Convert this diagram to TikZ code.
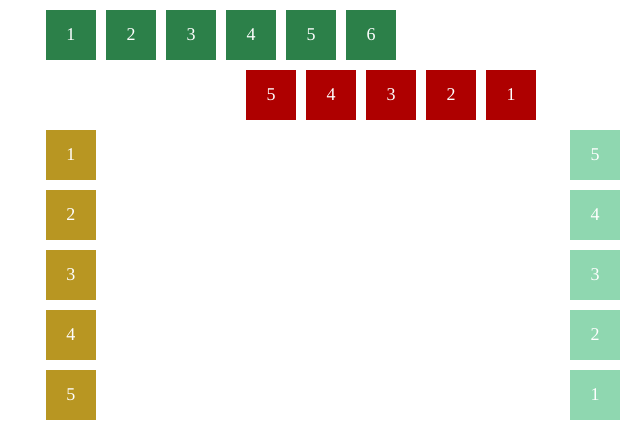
\documentclass[tikz,border=0pt]{standalone}
\usepackage{fontspec}
\setmainfont{Liberation Serif}
\definecolor{topgreen}{HTML}{2C8049}
\definecolor{darkred}{HTML}{AE0000}
\definecolor{gold}{HTML}{B89622}
\definecolor{mint}{HTML}{8FD7B0}
\tikzset{
  cell/.style={minimum size=37.5pt, inner sep=0pt, text=white, font=\fontsize{13.5}{16}\selectfont}
}

\begin{document}
\begin{tikzpicture}[x=0.75pt, y=-0.75pt]
            \useasboundingbox (0,0) rectangle (633,440);

            \node[cell, fill=topgreen] (G1) at (71,35) {1};
            \node[cell, fill=topgreen] (G2) at (131,35) {2};
            \node[cell, fill=topgreen] (G3) at (191,35) {3};
            \node[cell, fill=topgreen] (G4) at (251,35) {4};
            \node[cell, fill=topgreen] (G5) at (311,35) {5};
            \node[cell, fill=topgreen] (G6) at (371,35) {6};

            \node[cell, fill=darkred] (R5) at (271,95) {5};
            \node[cell, fill=darkred] (R4) at (331,95) {4};
            \node[cell, fill=darkred] (R3) at (391,95) {3};
            \node[cell, fill=darkred] (R2) at (451,95) {2};
            \node[cell, fill=darkred] (R1) at (511,95) {1};

            \node[cell, fill=gold] (Y1) at (71,155) {1};
            \node[cell, fill=gold] (Y2) at (71,215) {2};
            \node[cell, fill=gold] (Y3) at (71,275) {3};
            \node[cell, fill=gold] (Y4) at (71,335) {4};
            \node[cell, fill=gold] (Y5) at (71,395) {5};

            \node[cell, fill=mint] (M5) at (595,155) {5};
            \node[cell, fill=mint] (M4) at (595,215) {4};
            \node[cell, fill=mint] (M3) at (595,275) {3};
            \node[cell, fill=mint] (M2) at (595,335) {2};
            \node[cell, fill=mint] (M1) at (595,395) {1};
        \end{tikzpicture}
\end{document}
